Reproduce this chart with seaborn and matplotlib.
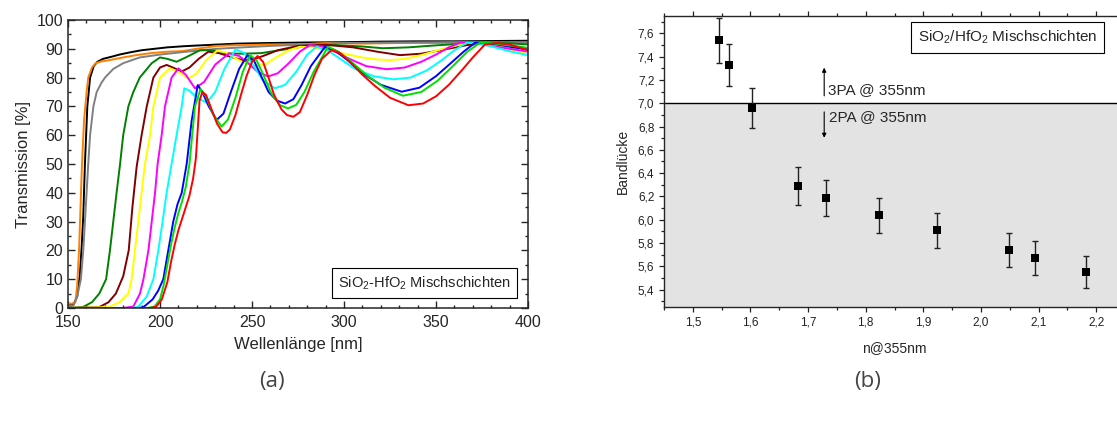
import numpy as np
import pandas as pd
import matplotlib
matplotlib.use("Agg")
import matplotlib.pyplot as plt
from matplotlib.ticker import MultipleLocator, FuncFormatter
import seaborn as sns

# ---------------- data: panel (a) transmission spectra ----------------
black_wl = [150, 153, 155, 156.5, 157.5, 158.3, 159.2, 160.5, 162, 164, 166, 169, 174, 178, 184, 190, 197, 204, 213, 222, 232, 242, 258, 280, 300, 320, 340, 360, 380, 400]
black_T = [1.2, 1.2, 4, 12, 22, 32, 50, 70, 80, 84, 85.5, 86.5, 87.3, 88, 88.8, 89.5, 90, 90.5, 90.9, 91.2, 91.5, 91.8, 92, 92.2, 92.3, 92.5, 92.6, 92.6, 92.7, 92.8]

orange_wl = [150, 152, 154, 155, 156, 156.8, 157.6, 158.7, 160.1, 161, 163, 165, 168, 172, 180, 187, 195, 204, 212, 220, 231, 245, 258, 275, 290, 310, 330, 350, 370, 390, 400]
orange_T = [1.5, 1.5, 2, 8, 20, 35, 50, 65, 75, 80, 83.5, 85, 85.6, 86, 87, 87.8, 88.5, 89, 89.2, 90, 91, 91.3, 91.5, 91.5, 92, 91.8, 92, 92, 92.2, 92, 92]

gray_wl = [150, 152.9, 155, 157, 158.3, 159.2, 160.1, 161, 162, 163.8, 165.6, 168, 170.1, 174.6, 180, 189, 200, 214.5, 230.8, 245, 260, 280, 300, 330, 360, 400]
gray_T = [0.5, 0.8, 4, 10, 20, 30, 40, 50, 60, 70, 75, 78, 80, 83, 85, 87, 88, 89, 90, 90.5, 91, 91.5, 92, 92.2, 92.3, 92.3]

dgreen_wl = [150, 158, 163, 167, 170.7, 172.8, 174.6, 176.4, 178.3, 180, 182.8, 185.5, 189, 195.5, 200, 204, 209, 214, 221.7, 228, 236, 245, 255, 265, 280, 295, 310, 321, 335, 350, 365, 380, 390, 400]
dgreen_T = [0, 0.3, 2, 5, 10, 20, 30, 40, 50, 60, 70, 75, 80, 85, 87, 86.5, 85.5, 87, 89.5, 89.5, 88.4, 88.3, 88.5, 89.5, 91, 91.3, 90.8, 90.2, 90.5, 91.2, 91.8, 92, 91.9, 91.5]

brown_wl = [150, 167, 172, 176, 180, 183, 185, 187.3, 190, 192.8, 196.4, 200, 203.6, 207, 211.8, 216, 221, 226.3, 232, 238, 245.3, 250, 256, 264, 275, 290, 305, 318, 330.4, 342, 355, 367, 378, 390, 400]
brown_T = [0, 0.3, 2, 5, 11, 20, 35, 49, 60, 70, 80, 83.5, 84.4, 83.5, 82.1, 83.5, 86.5, 89, 88.5, 87.3, 86, 86.2, 87.5, 89.5, 91, 91.4, 90.5, 89, 87.8, 88.3, 89.8, 91.3, 92, 91, 90.2]

yellow_wl = [150, 172, 178, 182.8, 184.6, 186.4, 188.2, 190, 191.8, 194.6, 196.4, 200, 205.4, 210, 215.4, 220, 225, 231, 236, 241, 246, 251.6, 257, 263, 270, 276, 283, 292, 300, 310, 318, 325, 333, 342, 352, 360, 367, 375, 385, 393, 400]
yellow_T = [0, 0.3, 2, 5, 10, 20, 30, 40, 50, 60, 70, 80, 83.2, 82, 79.7, 81.5, 86, 89.3, 88.7, 86.7, 85, 84, 84.5, 87, 89.5, 90.7, 90.5, 89.3, 88.3, 87, 86.3, 86.1, 86.5, 87.8, 89.7, 91, 92, 92, 91, 89.3, 88]

magenta_wl = [150, 180, 185.5, 189.1, 191, 193.7, 195.5, 197.3, 198.7, 200.9, 202.7, 206.3, 210, 214, 219, 224, 230, 237.5, 243, 248, 253, 258.8, 264, 270, 276, 281.5, 288, 295, 303, 312, 323.2, 333, 342, 350, 357, 363, 370, 380, 390, 400]
magenta_T = [0, 0, 0.5, 5, 10, 20, 30, 40, 50, 60, 70, 80, 83.2, 81, 76.3, 78.5, 84.5, 88.4, 87.5, 85, 82, 80.4, 81.5, 85, 89, 91.3, 90.8, 89, 86.5, 84, 82.9, 83.5, 85.5, 88, 90.5, 92.1, 92, 91, 90, 89]

cyan_wl = [150, 185, 188.2, 192.8, 196.4, 199.1, 201.4, 203.6, 206.3, 209, 211.8, 213.2, 216, 220, 225.4, 230, 235, 241, 246, 251, 256, 262.5, 268, 274, 280, 285.1, 291, 298, 306, 316, 326.8, 336, 345, 353, 360, 366.7, 374, 382, 391, 400]
cyan_T = [0, 0, 0.5, 4, 10, 20, 30, 40, 50, 60, 70, 76.3, 75.5, 73, 71.3, 75, 83, 89.8, 88.5, 84, 79, 76.3, 77.5, 82, 88, 90.7, 89.5, 86.5, 83, 80.5, 79.4, 80, 82.5, 86, 89.5, 92.1, 91.8, 90.5, 89, 87.8]

blue_wl = [150, 188, 191, 196, 199, 201.8, 204.5, 207.2, 209.5, 211.8, 214.5, 217.2, 220.5, 223, 226.5, 230.8, 234.5, 238.5, 243, 247.5, 251, 255, 259, 263.5, 268, 272.5, 277, 282, 289.7, 295, 302, 310, 320, 331.3, 341, 350, 358, 365, 371.2, 378, 385, 392, 400]
blue_T = [0, 0, 0.3, 3, 6, 10, 20, 30, 36, 40, 50, 65, 77.4, 75, 70, 65.3, 67.5, 75, 83, 87.8, 86, 80.5, 75, 72, 71, 72.5, 77.5, 84, 90.7, 89.5, 86, 81.5, 77.5, 75.1, 76.5, 80.5, 85, 89, 92.1, 92, 91.3, 90.5, 89.8]

green_wl = [150, 193, 197, 200, 202, 204, 206, 208, 210, 212, 214, 216, 217.5, 219, 222, 225, 229, 233.5, 237, 241, 245, 249, 252.5, 256.5, 260.5, 265, 269.5, 274, 278.5, 283.5, 291.3, 297, 304, 312, 322, 332, 342, 351, 360, 367, 373.9, 380, 388, 395, 400]
green_T = [0, 0, 0.5, 3, 8, 15, 22, 28, 33, 37, 42, 50, 60, 70, 76, 73.5, 67, 63, 65.5, 73, 82, 87.8, 86, 80.5, 74.5, 70.5, 69.3, 70.5, 75, 82, 90.7, 89, 85.5, 81, 76.5, 73.7, 75, 79, 84.5, 89, 92.1, 92, 91.3, 90.8, 90.3]

red_wl = [150, 195, 198, 201, 204, 206, 208, 210, 212, 214, 216, 218, 219.5, 220.5, 221.5, 223, 225, 228, 231, 234, 236, 238, 241, 244, 247, 250, 253, 256, 259, 262, 266, 269, 272.5, 276, 280, 284, 288, 293.3, 298, 304, 310, 317, 325, 335, 343, 350, 357, 364, 370, 376.6, 383, 390, 395, 400]
red_T = [0, 0, 0.5, 3, 9, 16, 22, 27, 31, 35, 39, 45, 52, 62, 72, 75, 74, 69, 64, 61, 60.8, 62, 67, 74, 80.5, 85.5, 87.5, 85.5, 80, 74, 69, 67, 66.4, 68, 74, 81, 86.5, 89.6, 88.5, 85, 81, 77, 73, 70.4, 71, 73.5, 77.5, 82.5, 87, 91.5, 92, 91.5, 90.5, 89.5]

series_names = ["black", "orange", "gray", "darkgreen", "brown", "yellow", "magenta", "cyan", "blue", "green", "red"]
series_wl = [black_wl, orange_wl, gray_wl, dgreen_wl, brown_wl, yellow_wl, magenta_wl, cyan_wl, blue_wl, green_wl, red_wl]
series_T = [black_T, orange_T, gray_T, dgreen_T, brown_T, yellow_T, magenta_T, cyan_T, blue_T, green_T, red_T]
series_colors = ["#000000", "#FF8000", "#808080", "#008000", "#800000", "#FFFF00", "#FF00FF", "#00FFFF", "#0000FF", "#00E000", "#FF0000"]

# ---------------- data: panel (b) band gap vs refractive index ----------------
n_355 = [1.545, 1.562, 1.602, 1.682, 1.731, 1.823, 1.924, 2.048, 2.094, 2.183]
bandgap = [7.54, 7.33, 6.96, 6.29, 6.19, 6.04, 5.91, 5.74, 5.67, 5.55]
bandgap_err = [0.19, 0.18, 0.17, 0.16, 0.155, 0.15, 0.15, 0.145, 0.143, 0.14]
threshold = 7.0

# ---------------- style ----------------
sns.set_style("ticks")
plt.rcParams["font.family"] = ["Liberation Sans", "DejaVu Sans"]
plt.rcParams["mathtext.fontset"] = "custom"
plt.rcParams["mathtext.rm"] = "Liberation Sans"
plt.rcParams["mathtext.it"] = "Liberation Sans:italic"
plt.rcParams["mathtext.bf"] = "Liberation Sans:bold"

W, H = 1117, 421
fig = plt.figure(figsize=(W / 100, H / 100), dpi=100)

# ---------------- panel (a) ----------------
axA = fig.add_axes([68 / W, 1 - 308 / H, 460 / W, 288 / H])
frames = []
for name, wl, T in zip(series_names, series_wl, series_T):
    frames.append(pd.DataFrame({"wl": wl, "T": T, "sample": name}))
dfA = pd.concat(frames, ignore_index=True)
sns.lineplot(data=dfA, x="wl", y="T", hue="sample", hue_order=series_names,
             palette=dict(zip(series_names, series_colors)), estimator=None,
             sort=False, legend=False, lw=1.4, ax=axA)
axA.set_xlim(150, 400)
axA.set_ylim(0, 100)
axA.xaxis.set_major_locator(MultipleLocator(50))
axA.xaxis.set_minor_locator(MultipleLocator(10))
axA.yaxis.set_major_locator(MultipleLocator(10))
axA.yaxis.set_minor_locator(MultipleLocator(5))
axA.tick_params(which="both", direction="in", top=True, right=True, labelsize=11.5, width=1.0)
axA.tick_params(which="major", length=5)
axA.tick_params(which="minor", length=2.5)
axA.tick_params(axis="x", pad=5)
for s in axA.spines.values():
    s.set_linewidth(1.1)
axA.set_xlabel("Wellenlänge [nm]", fontsize=12, labelpad=5)
axA.set_ylabel("Transmission [%]", fontsize=12, labelpad=4)
axA.text(0.775, 0.087, "SiO$_2$-HfO$_2$ Mischschichten", transform=axA.transAxes,
         ha="center", va="center", fontsize=10.5,
         bbox=dict(boxstyle="square,pad=0.45", fc="white", ec="black", lw=0.8))

# ---------------- panel (b) ----------------
axB = fig.add_axes([664 / W, 1 - 307 / H, 461 / W, 291 / H])
ylo, yhi = 5.25, 7.75
axB.axhspan(ylo, threshold, color="#e3e3e3", zorder=0, lw=0)
axB.axhline(threshold, color="black", lw=1.0, zorder=1)
axB.errorbar(n_355, bandgap, yerr=bandgap_err, fmt="none", ecolor="#222222",
             elinewidth=1.0, capsize=2.5, capthick=1.0, zorder=2)
sns.scatterplot(x=n_355, y=bandgap, marker="s", s=38, color="black",
                edgecolor="black", linewidth=0, ax=axB, zorder=3)
axB.set_xlim(1.45, 2.25)
axB.set_ylim(ylo, yhi)
axB.xaxis.set_major_locator(MultipleLocator(0.1))
axB.xaxis.set_minor_locator(MultipleLocator(0.05))
axB.yaxis.set_major_locator(MultipleLocator(0.2))
axB.yaxis.set_minor_locator(MultipleLocator(0.1))
comma = FuncFormatter(lambda v, p: f"{v:.1f}".replace(".", ","))
axB.xaxis.set_major_formatter(comma)
axB.yaxis.set_major_formatter(comma)
axB.tick_params(which="both", direction="out", top=True, labeltop=False,
                labelsize=8.5, width=0.9, colors="#222222")
axB.tick_params(which="major", length=3.5)
axB.tick_params(which="minor", length=2)
for s in axB.spines.values():
    s.set_linewidth(1.0)
axB.spines["right"].set_visible(False)
axB.set_xlabel("n@355nm", fontsize=10, labelpad=9)
axB.set_ylabel("Bandlücke", fontsize=10, labelpad=6)

arrow_x = 1.728
axB.annotate("", xy=(arrow_x, 7.33), xytext=(arrow_x, 7.04),
             arrowprops=dict(arrowstyle="-|>", color="black", lw=0.8, mutation_scale=6))
axB.annotate("", xy=(arrow_x, 6.68), xytext=(arrow_x, 6.95),
             arrowprops=dict(arrowstyle="-|>", color="black", lw=0.8, mutation_scale=6))
axB.text(1.735, 7.11, "3PA @ 355nm", fontsize=11, ha="left", va="center")
axB.text(1.737, 6.885, "2PA @ 355nm", fontsize=11, ha="left", va="center")
axB.text(0.745, 0.926, "SiO$_2$/HfO$_2$ Mischschichten", transform=axB.transAxes,
         ha="center", va="center", fontsize=11,
         bbox=dict(boxstyle="square,pad=0.45", fc="white", ec="black", lw=0.8))

# ---------------- captions ----------------
fig.text(272 / W, 1 - 381 / H, "(a)", fontsize=16, ha="center", va="center",
         color="#444444", family=["Open Sans", "DejaVu Sans"])
fig.text(868 / W, 1 - 381 / H, "(b)", fontsize=16, ha="center", va="center",
         color="#444444", family=["Open Sans", "DejaVu Sans"])

fig.savefig("out.png", dpi=100)
